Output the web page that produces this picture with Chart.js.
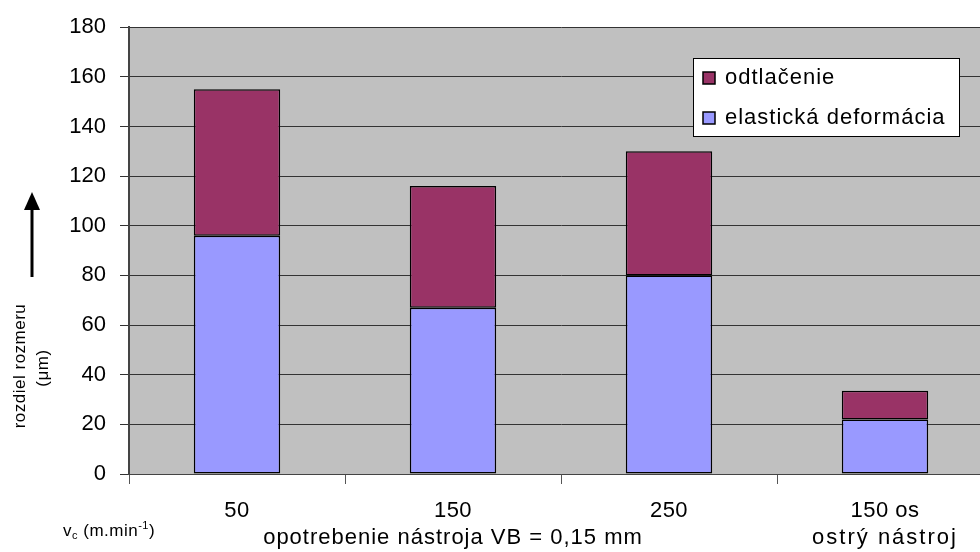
<!DOCTYPE html>
<html><head><meta charset="utf-8">
<script src="https://cdn.jsdelivr.net/npm/chart.js@4/dist/chart.umd.min.js"></script>
<style>html,body{margin:0;padding:0;background:#fff;overflow:hidden;width:980px;height:552px}</style>
</head><body>
<canvas id="c" width="1000" height="552"></canvas>
<script>
const categories = ["50", "150", "250", "150 os"];
const elastic = [96, 67, 80, 22];
const odtlacenie = [59, 49, 50, 11.5];
const yTicks = [0, 20, 40, 60, 80, 100, 120, 140, 160, 180];
const groupLabels = [{text: "opotrebenie nástroja VB = 0,15 mm", from: 0, to: 2, spacing: 1}, {text: "ostrý nástroj", from: 3, to: 3, spacing: 2}];
const FONT = "'Liberation Sans', Arial, sans-serif";

function spaced(ctx, px) { if ('letterSpacing' in ctx) ctx.letterSpacing = px + 'px'; }

const extras = {
  id: 'extras',
  beforeDraw(chart) {
    const {ctx, chartArea: a} = chart;
    ctx.save();
    ctx.fillStyle = '#C0C0C0';
    ctx.fillRect(a.left, a.top, a.right - a.left, a.bottom - a.top);
    ctx.restore();
  },
  afterDraw(chart) {
    const {ctx} = chart;
    const x = chart.scales.x;
    ctx.save();
    ctx.fillStyle = '#000';
    ctx.textAlign = 'center';
    ctx.textBaseline = 'middle';
    ctx.font = '22px ' + FONT;
    spaced(ctx, 0.5);
    categories.forEach((c, i) => ctx.fillText(c, x.getPixelForValue(i), 511));
    groupLabels.forEach(g => {
      const cx = (x.getPixelForValue(g.from) + x.getPixelForValue(g.to)) / 2;
      spaced(ctx, g.spacing);
      ctx.fillText(g.text, cx, 538);
    });
    // v_c label
    spaced(ctx, 0.5);
    ctx.textAlign = 'left';
    ctx.textBaseline = 'alphabetic';
    let px = 63;
    const part = (t, size, dy) => {
      ctx.font = size + 'px ' + FONT;
      ctx.fillText(t, px, 536 + dy);
      px += ctx.measureText(t).width;
    };
    part('v', 17, 0);
    part('c', 11, 3);
    part(' (m.min', 17, 0);
    part('-1', 11, -7);
    part(')', 17, 0);
    // y title
    ctx.textAlign = 'center';
    ctx.textBaseline = 'middle';
    ctx.font = '17px ' + FONT;
    ctx.save();
    ctx.translate(20, 366);
    ctx.rotate(-Math.PI / 2);
    ctx.fillText('rozdiel rozmeru', 0, 0);
    ctx.restore();
    ctx.save();
    ctx.translate(43, 368);
    ctx.rotate(-Math.PI / 2);
    ctx.fillText('(\u03BCm)', 0, 0);
    ctx.restore();
    // arrow
    ctx.strokeStyle = '#000';
    ctx.lineWidth = 3;
    ctx.beginPath();
    ctx.moveTo(32, 277);
    ctx.lineTo(32, 205);
    ctx.stroke();
    ctx.beginPath();
    ctx.moveTo(32, 192);
    ctx.lineTo(24, 210);
    ctx.lineTo(40, 210);
    ctx.closePath();
    ctx.fill();
    // legend
    const lx = 693, ly = 58, lw = 266, lh = 78;
    ctx.fillStyle = '#fff';
    ctx.fillRect(lx, ly, lw, lh);
    ctx.strokeStyle = '#000';
    ctx.lineWidth = 1;
    ctx.strokeRect(lx + 0.5, ly + 0.5, lw, lh);
    const items = [{t: 'odtlačenie', c: '#993366'}, {t: 'elastická deformácia', c: '#9999FF'}];
    ctx.font = '22px ' + FONT;
    spaced(ctx, 1);
    ctx.textAlign = 'left';
    ctx.lineWidth = 1.5;
    items.forEach((it, i) => {
      const yy = 78 + i * 40;
      ctx.fillStyle = it.c;
      ctx.fillRect(703, yy - 6, 12, 12);
      ctx.strokeRect(703, yy - 6, 12, 12);
      ctx.fillStyle = '#000';
      ctx.fillText(it.t, 725, yy);
    });
    ctx.restore();
  }
};

new Chart(document.getElementById('c'), {
  type: 'bar',
  data: {
    labels: categories,
    datasets: [
      {label: 'elastická deformácia', data: elastic, backgroundColor: '#9999FF', borderColor: '#000', borderWidth: 1.5, borderSkipped: false},
      {label: 'odtlačenie', data: odtlacenie, backgroundColor: '#993366', borderColor: '#000', borderWidth: 1.5, borderSkipped: false}
    ]
  },
  options: {
    responsive: false,
    animation: false,
    devicePixelRatio: 1,
    layout: {padding: {left: 0, top: 27, right: 7, bottom: 0}},
    datasets: {bar: {barPercentage: 0.4, categoryPercentage: 1}},
    plugins: {legend: {display: false}, tooltip: {enabled: false}},
    scales: {
      x: {
        stacked: true,
        offset: true,
        ticks: {display: false},
        grid: {offset: true, drawOnChartArea: false, drawTicks: true, tickLength: 10, color: '#555', lineWidth: 1},
        border: {display: true, color: '#444', width: 1},
        afterFit(s) { s.height = 78; }
      },
      y: {
        stacked: true,
        min: 0, max: 180,
        afterBuildTicks(s) { s.ticks = yTicks.map(v => ({value: v})); },
        ticks: {color: '#000', font: {size: 22, family: FONT}, padding: 14},
        grid: {color: '#333', lineWidth: 1, tickLength: 9},
        border: {display: true, color: '#444', width: 2},
        afterFit(s) { s.width = 129; }
      }
    }
  },
  plugins: [extras]
});
</script>
</body></html>
